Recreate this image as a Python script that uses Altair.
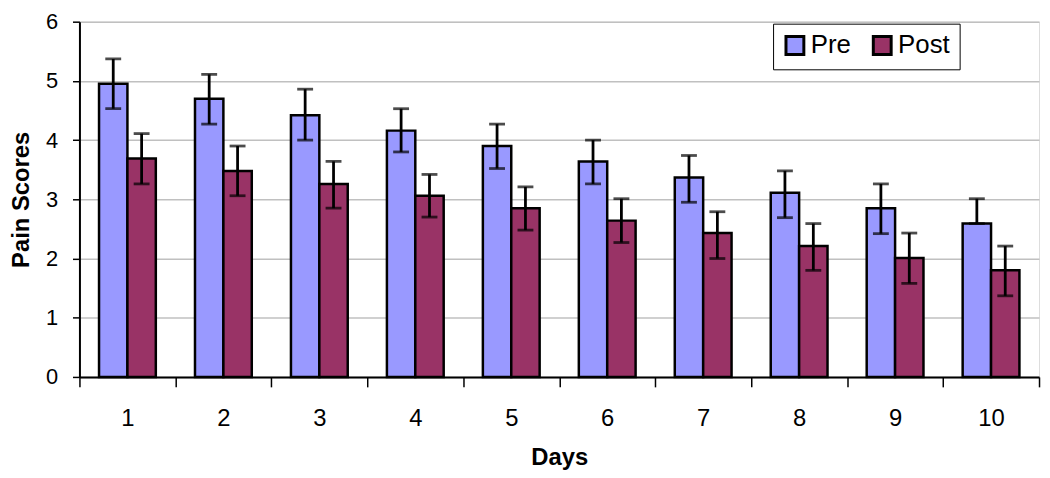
import altair as alt
import pandas as pd

days = [1, 2, 3, 4, 5, 6, 7, 8, 9, 10]
groups = ["Pre", "Post"]
colors = ["#9999FF", "#993366"]

pre_mean = [4.95, 4.70, 4.42, 4.16, 3.90, 3.64, 3.37, 3.11, 2.85, 2.59]
post_mean = [3.69, 3.48, 3.26, 3.06, 2.85, 2.64, 2.43, 2.21, 2.01, 1.80]
pre_err_up = [0.42, 0.41, 0.44, 0.37, 0.37, 0.36, 0.37, 0.37, 0.41, 0.42]
pre_err_down = [0.42, 0.43, 0.42, 0.36, 0.38, 0.38, 0.42, 0.42, 0.43, 0.0]
post_err_up = [0.42, 0.42, 0.38, 0.36, 0.36, 0.37, 0.36, 0.38, 0.42, 0.41]
post_err_down = [0.43, 0.42, 0.41, 0.36, 0.37, 0.37, 0.43, 0.41, 0.43, 0.43]

rows = []
for i, d in enumerate(days):
    rows.append({"Day": d, "Group": "Pre", "Value": pre_mean[i],
                 "up": pre_err_up[i], "down": pre_err_down[i]})
    rows.append({"Day": d, "Group": "Post", "Value": post_mean[i],
                 "up": post_err_up[i], "down": post_err_down[i]})
df = pd.DataFrame(rows)

FONT = "Liberation Sans"

x_enc = alt.X(
    "Day:O",
    sort=days,
    scale=alt.Scale(paddingInner=0, paddingOuter=0),
    axis=alt.Axis(
        title="Days", tickBand="extent", labelAngle=0, grid=False,
        domainColor="black", domainWidth=2, tickColor="black", tickWidth=1.5,
        tickSize=10, labelFontSize=24, labelPadding=20, labelColor="black",
        labelFont=FONT, titleFont=FONT, titleFontSize=24, titleFontWeight="bold",
        titleColor="black", titleX=483.5, titleY=88, titleBaseline="alphabetic",
        titleAlign="center",
    ),
)
xoff_enc = alt.XOffset(
    "Group:N", sort=groups,
    scale=alt.Scale(domain=groups, paddingInner=0, paddingOuter=0.69),
)
y_axis = alt.Axis(
    title="Pain Scores", values=[0, 1, 2, 3, 4, 5, 6], format="d",
    domainColor="black", domainWidth=2, tickColor="black", tickWidth=1.5,
    tickSize=7, labelFontSize=22, labelPadding=15, labelColor="black",
    labelFont=FONT, gridColor="#c0c0c0", gridWidth=1.5,
    titleFont=FONT, titleFontSize=24, titleFontWeight="bold", titleColor="black",
    titleX=-58, titleY=179, titleAngle=270, titleAlign="center",
    titleBaseline="middle",
)
y_scale = alt.Scale(domain=[0, 6], nice=False)

base = alt.Chart(df).transform_calculate(
    lo="datum.Value - datum.down", hi="datum.Value + datum.up"
).encode(x=x_enc, xOffset=xoff_enc)

bars = base.mark_bar(stroke="black", strokeWidth=2.5).encode(
    y=alt.Y("Value:Q", scale=y_scale, axis=y_axis, title="Pain Scores"),
    color=alt.Color(
        "Group:N", sort=groups,
        scale=alt.Scale(domain=groups, range=colors),
        legend=alt.Legend(
            title=None, orient="none", legendX=699, legendY=2,
            direction="horizontal", strokeColor="black", fillColor="white",
            padding=9, labelFontSize=26, labelFont=FONT, labelColor="black",
            symbolType="square", symbolSize=324, symbolStrokeColor="black",
            symbolStrokeWidth=3, labelOffset=3, columnPadding=16,
        ),
    ),
)
rules = base.mark_rule(color="black", strokeWidth=2.8).encode(
    y=alt.Y("lo:Q", scale=y_scale, title="Pain Scores"), y2="hi:Q"
)
caps_hi = base.mark_tick(color="black", thickness=2.8, size=16).encode(
    y=alt.Y("hi:Q", scale=y_scale, title="Pain Scores")
)
caps_lo = base.mark_tick(color="black", thickness=2.8, size=16).encode(
    y=alt.Y("lo:Q", scale=y_scale, title="Pain Scores")
)

chart = alt.layer(bars, rules, caps_hi, caps_lo).properties(
    width=967, height=358,
    padding={"left": 72, "top": 12, "right": 3, "bottom": 92},
    autosize=alt.AutoSizeParams(type="none"),
).configure_view(stroke="#808080", strokeWidth=2.5).configure(background="white")

chart.save("out.html", embed_options={"renderer": "svg", "actions": False})
